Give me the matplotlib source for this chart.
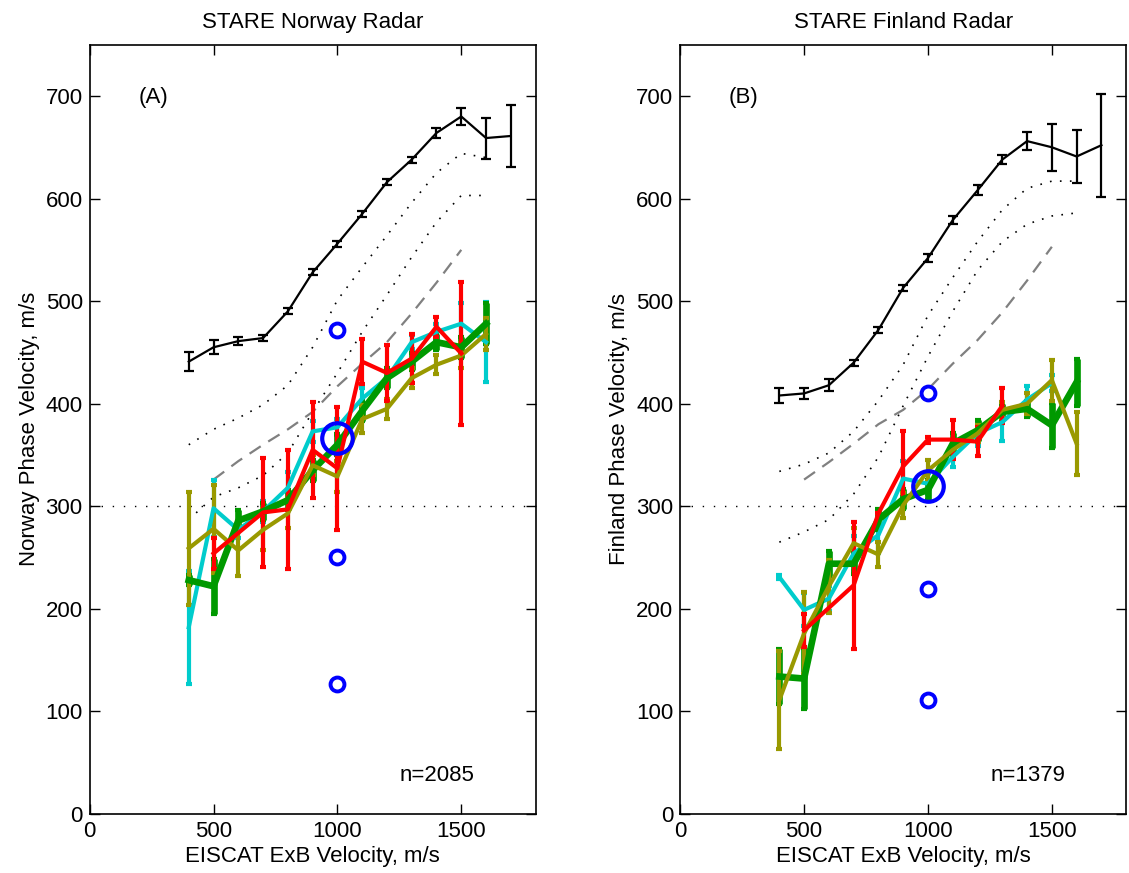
import numpy as np
import matplotlib
matplotlib.use("Agg")
import matplotlib.pyplot as plt

plt.rcParams['font.family'] = ['Liberation Sans', 'DejaVu Sans']
plt.rcParams['font.size'] = 16

# velocidades EISCAT (m/s)
vel_black = [400, 500, 600, 700, 800, 900, 1000, 1100, 1200, 1300, 1400, 1500, 1600, 1700]
vel_dot = [400, 500, 600, 700, 800, 900, 1000, 1100, 1200, 1300, 1400, 1500, 1600]
vel_dash = [500, 600, 700, 800, 900, 1000, 1100, 1200, 1300, 1400, 1500]
vel_col = [400, 500, 600, 700, 800, 900, 1000, 1100, 1200, 1300, 1400, 1500, 1600]

# --- Norway ---
nor_black = [441, 455, 461, 464, 490, 528, 556, 585, 616, 638, 664, 680, 659, 661]
nor_black_err = [9, 7, 4, 3, 3, 3, 3, 3, 3, 3, 5, 8, 20, 30]
nor_dot_hi = [360, 375, 386, 399, 418, 455, 501, 533, 564, 596, 625, 644, 640]
nor_dot_lo = [287, 309, 318, 330, 352, 392, 430, 470, 506, 543, 577, 603, 603]
nor_dash = [326, 344, 360, 375, 392, 417, 439, 460, 488, 518, 550]
nor_cyan = [182, 298, 277, 295, 318, 373, 377, 405, 425, 460, 470, 478, 460]
nor_cyan_err = [55, 28, 8, 10, 15, 10, 8, 10, 8, 7, 8, 20, 39]
nor_green = [228, 222, 286, 295, 306, 335, 360, 393, 425, 441, 460, 455, 478]
nor_green_err = [5, 27, 10, 8, 10, 10, 10, 10, 10, 8, 8, 10, 20]
nor_olive = [259, 278, 257, 277, 293, 340, 329, 385, 395, 425, 438, 447, 468]
nor_olive_err = [55, 43, 25, 20, 14, 10, 15, 14, 10, 10, 9, 12, 16]
nor_red_x = [500, 700, 800, 900, 1000, 1100, 1200, 1300, 1400, 1500]
nor_red = [254, 294, 297, 355, 337, 441, 430, 444, 475, 449]
nor_red_err = [15, 53, 58, 47, 60, 22, 27, 24, 10, 70]
nor_circ_small = [472, 251, 127]
nor_circ_big = [367]

# --- Finland ---
fin_black = [408, 410, 418, 440, 472, 513, 542, 579, 608, 638, 656, 650, 641, 652]
fin_black_err = [7, 5, 6, 3, 3, 3, 4, 4, 5, 4, 9, 23, 26, 50]
fin_dot_hi = [334, 341, 352, 373, 403, 438, 486, 523, 558, 589, 610, 617, 617]
fin_dot_lo = [265, 275, 287, 312, 348, 398, 446, 490, 530, 558, 575, 583, 586]
fin_dash = [326, 343, 361, 380, 394, 414, 439, 462, 489, 520, 553]
fin_cyan_x = [400, 500, 600, 700, 800, 900, 1000, 1100, 1200, 1300, 1400, 1500]
fin_cyan = [231, 199, 210, 254, 272, 327, 322, 348, 371, 382, 404, 420]
fin_cyan_err = [2, 16, 12, 17, 18, 17, 10, 10, 12, 18, 13, 8]
fin_green = [134, 132, 244, 244, 287, 307, 316, 361, 374, 392, 395, 379, 421]
fin_green_err = [27, 30, 12, 10, 10, 10, 10, 10, 10, 8, 8, 22, 23]
fin_olive = [111, 176, 222, 264, 253, 301, 335, 355, 371, 394, 400, 423, 361]
fin_olive_err = [48, 40, 26, 15, 12, 12, 10, 8, 8, 8, 10, 20, 31]
fin_red_x = [500, 700, 800, 900, 1000, 1100, 1200, 1300]
fin_red = [179, 223, 293, 339, 365, 365, 363, 398]
fin_red_err = [16, 62, 0, 34, 3, 19, 14, 17]
fin_circ_small = [410, 219, 111]
fin_circ_big = [320]

CYAN = (0.0, 0.8, 0.8)
GREEN = (0.0, 0.6, 0.0)
OLIVE = (0.6, 0.6, 0.0)
RED = (1.0, 0.0, 0.0)


def draw_panel(ax, black, black_err, dot_hi, dot_lo, dash,
               cyan_x, cyan, cyan_err, green, green_err, olive, olive_err,
               red_x, red, red_err, circ_small, circ_big,
               title, ylabel, tag, ntext):
    ax.axhline(300, color='k', lw=1.0, ls=(0, (1, 7)))
    ax.plot(vel_dot, dot_hi, color='k', lw=1.2, ls=(0, (1, 5)))
    ax.plot(vel_dot, dot_lo, color='k', lw=1.2, ls=(0, (1, 5)))
    ax.plot(vel_dash, dash, color=(0.5, 0.5, 0.5), lw=1.6, ls=(0, (6, 4)))

    ax.errorbar(vel_black, black, yerr=black_err, color='k', lw=1.6,
                elinewidth=1.6, capsize=3.5, capthick=1.6)

    # series coloreadas: barras con el mismo grosor que la linea
    ax.errorbar(cyan_x, cyan, yerr=cyan_err, color=CYAN, lw=3,
                elinewidth=3, capsize=2.5, capthick=3)
    ax.errorbar(vel_col, green, yerr=green_err, color=GREEN, lw=4.8,
                elinewidth=4.8, capsize=2.5, capthick=3)
    ax.errorbar(vel_col, olive, yerr=olive_err, color=OLIVE, lw=3,
                elinewidth=3, capsize=2.5, capthick=3)
    ax.errorbar(red_x, red, yerr=red_err, color=RED, lw=3,
                elinewidth=3, capsize=2.5, capthick=3)

    ax.plot([1000] * len(circ_small), circ_small, 'o', ms=10, mfc='none',
            mec='b', mew=2.8, ls='none', zorder=10)
    ax.plot([1000] * len(circ_big), circ_big, 'o', ms=22, mfc='none',
            mec='b', mew=3, ls='none', zorder=10)

    ax.text(197, 699, tag, ha='left', va='center', fontsize=16)
    ax.text(1252, 38, ntext, ha='left', va='center', fontsize=16)

    ax.set_xlim(0, 1800)
    ax.set_ylim(0, 750)
    ax.set_xticks([0, 500, 1000, 1500])
    ax.set_yticks(range(0, 701, 100))
    ax.tick_params(direction='in', top=True, right=True, length=7,
                   width=1, pad=5, labelsize=16)
    for s in ax.spines.values():
        s.set_linewidth(1.2)
    ax.set_title(title, fontsize=16, pad=12)
    ax.set_xlabel('EISCAT ExB Velocity, m/s', fontsize=16, labelpad=3)
    ax.set_ylabel(ylabel, fontsize=16, labelpad=4)


fig = plt.figure(figsize=(11.29, 8.73), dpi=100)
ax1 = fig.add_axes([0.0794, 0.0676, 0.395, 0.8812])
ax2 = fig.add_axes([0.6025, 0.0676, 0.395, 0.8812])

draw_panel(ax1, nor_black, nor_black_err, nor_dot_hi, nor_dot_lo, nor_dash,
           vel_col, nor_cyan, nor_cyan_err, nor_green, nor_green_err,
           nor_olive, nor_olive_err, nor_red_x, nor_red, nor_red_err,
           nor_circ_small, nor_circ_big,
           'STARE Norway Radar', 'Norway Phase Velocity, m/s', '(A)', 'n=2085')
draw_panel(ax2, fin_black, fin_black_err, fin_dot_hi, fin_dot_lo, fin_dash,
           fin_cyan_x, fin_cyan, fin_cyan_err, fin_green, fin_green_err,
           fin_olive, fin_olive_err, fin_red_x, fin_red, fin_red_err,
           fin_circ_small, fin_circ_big,
           'STARE Finland Radar', 'Finland Phase Velocity, m/s', '(B)', 'n=1379')

fig.savefig('out.png', dpi=100)
